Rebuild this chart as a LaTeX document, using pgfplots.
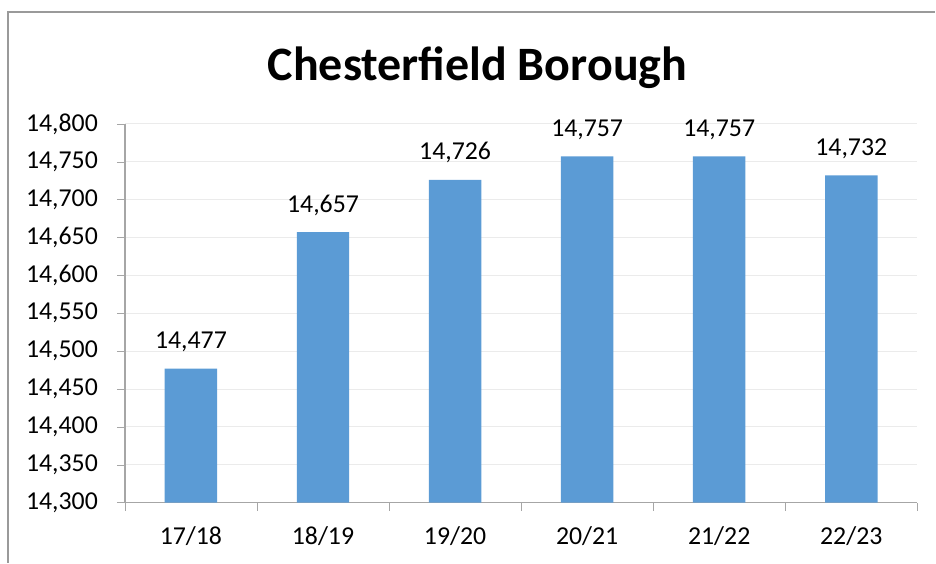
\documentclass[border=0pt]{standalone}
\usepackage{pgfplots}
\pgfplotsset{compat=1.18}
\usepackage{fontspec}
\setmainfont{Carlito}
\definecolor{barblue}{HTML}{5B9BD5}
\definecolor{axisgray}{HTML}{A6A6A6}
\definecolor{gridgray}{HTML}{EBEBEB}
\definecolor{framegray}{HTML}{9A9A9A}
\begin{document}
\begin{tikzpicture}
\begin{axis}[
  at={(0,0)}, anchor=south west,
  scale only axis,
  width=396.5pt, height=189.5pt,
  xmin=-0.5, xmax=5.5,
  ymin=14300, ymax=14800,
  ytick={14300,14350,...,14800},
  xtick={0,...,5},
  xticklabels={17/18,18/19,19/20,20/21,21/22,22/23},
  minor xtick={-0.5,0.5,...,5.5},
  major x tick style={draw=none},
  minor x tick style={draw=axisgray},
  ytick style={draw=axisgray},
  tick align=outside,
  major tick length=4pt, minor tick length=4pt,
  axis x line*=bottom, axis y line*=left,
  axis line style={draw=axisgray, line width=0.6pt},
  ymajorgrids, grid style={draw=gridgray, line width=0.5pt},
  scaled y ticks=false,
  /pgf/number format/assume math mode=true,
  /pgf/number format/1000 sep={,},
  tick label style={font=\fontsize{12.9pt}{15pt}\selectfont, text=black},
  yticklabel style={xshift=-6pt},
  xticklabel style={yshift=-4.5pt},
  title={\textbf{Chesterfield Borough}},
  title style={at={(0.445,1.116)}, anchor=center, font=\fontsize{24pt}{28pt}\selectfont},
  nodes near coords,
  every node near coord/.append style={font=\fontsize{12.9pt}{15pt}\selectfont, anchor=base, inner sep=0pt, yshift=10pt, /pgf/number format/assume math mode=true, /pgf/number format/1000 sep={,}},
]
\addplot[ybar, bar width=26.25pt, fill=barblue, draw=none] coordinates {
 (0,14477) (1,14657) (2,14726) (3,14757) (4,14757) (5,14732)
};
\end{axis}
\draw[framegray, line width=0.7pt] (-58.5pt,-30pt) -- (-58.5pt,245.5pt) -- (405.5pt,245.5pt);
\path[use as bounding box] (-62.5pt,-30pt) rectangle (405.5pt,251.5pt);
\end{tikzpicture}
\end{document}
